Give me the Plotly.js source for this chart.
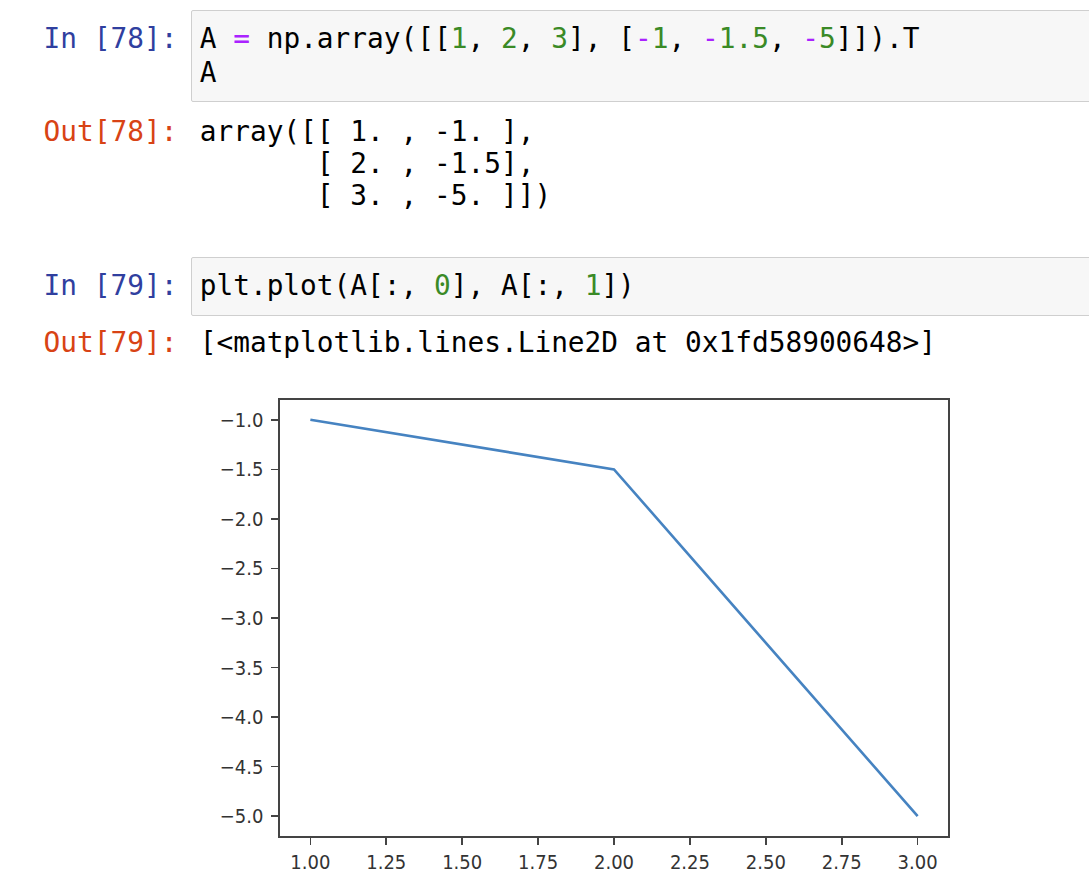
<!DOCTYPE html>
<html>
<head>
<meta charset="utf-8">
<script src="https://cdn.plot.ly/plotly-3.0.1.min.js"></script>
<style>
  html, body { margin: 0; padding: 0; background: #ffffff; width: 1089px; height: 888px; overflow: hidden; }
  .line { position: absolute; left: 199.7px; height: 33.5px; white-space: pre; }
  .line span, .prompt { font-family: "DejaVu Sans Mono", "Liberation Mono", monospace; font-size: 27.8px; line-height: 33.5px; white-space: pre; color: #000; }
  .prompt { position: absolute; left: 43.6px; }
  .pin { color: #303F9F; }
  .pout { color: #D84315; }
  .line span.op { color: #AA22FF; }
  .line span.num { color: #3a8a26; }
  .box { position: absolute; left: 191px; width: 920px; background: #f7f7f7; border: 1px solid #cfcfcf; border-radius: 2px; box-sizing: border-box; }
  #chart { position: absolute; left: 180px; top: 380px; width: 800px; height: 510px; }
</style>
</head>
<body>
<div class="box" style="top:10px; height:92px;"></div>
<div class="box" style="top:257px; height:59px;"></div>

<div class="prompt pin" style="top:22px;">In [78]:</div>
<div class="line" style="top:22px;"><span>A </span><span class="op">=</span><span> np.array([[</span><span class="num">1</span><span>, </span><span class="num">2</span><span>, </span><span class="num">3</span><span>], [</span><span class="op">-</span><span class="num">1</span><span>, </span><span class="op">-</span><span class="num">1.5</span><span>, </span><span class="op">-</span><span class="num">5</span><span>]]).T</span></div>
<div class="line" style="top:55.5px;"><span>A</span></div>

<div class="prompt pout" style="top:114.8px;">Out[78]:</div>
<div class="line" style="top:114.8px;"><span>array([[ 1. , -1. ],</span></div>
<div class="line" style="top:147.1px;"><span>       [ 2. , -1.5],</span></div>
<div class="line" style="top:179.4px;"><span>       [ 3. , -5. ]])</span></div>

<div class="prompt pin" style="top:268.8px;">In [79]:</div>
<div class="line" style="top:268.8px;"><span>plt.plot(A[:, </span><span class="num">0</span><span>], A[:, </span><span class="num">1</span><span>])</span></div>

<div class="prompt pout" style="top:326px;">Out[79]:</div>
<div class="line" style="top:326px;"><span>[&lt;matplotlib.lines.Line2D at 0x1fd58900648&gt;]</span></div>

<div id="chart"></div>

<script>
// Data: matrix A (transposed), columns used for plotting
const colX = [1, 2, 3];
const colY = [-1, -1.5, -5];
const xTickVals = [1.00, 1.25, 1.50, 1.75, 2.00, 2.25, 2.50, 2.75, 3.00];
const yTickVals = [-1.0, -1.5, -2.0, -2.5, -3.0, -3.5, -4.0, -4.5, -5.0];

const axisColor = '#444444';
const tickFont = { family: '"DejaVu Sans Condensed", "DejaVu Sans", sans-serif', size: 20, color: '#333333' };

const trace = {
  x: colX,
  y: colY,
  type: 'scatter',
  mode: 'lines',
  line: { color: '#4683c1', width: 2.6 },
  hoverinfo: 'skip'
};

const layout = {
  width: 800,
  height: 510,
  margin: { l: 100, r: 32, t: 20, b: 54 },
  paper_bgcolor: 'rgba(0,0,0,0)',
  plot_bgcolor: '#ffffff',
  showlegend: false,
  xaxis: {
    range: [0.9, 3.1],
    tickmode: 'array',
    tickvals: xTickVals,
    ticktext: xTickVals.map(v => v.toFixed(2)),
    ticks: 'outside', ticklen: 7, tickwidth: 1.6, tickcolor: axisColor,
    showline: true, linecolor: axisColor, linewidth: 1.6, mirror: true,
    showgrid: false, zeroline: false,
    tickfont: tickFont
  },
  yaxis: {
    range: [-5.2, -0.8],
    tickmode: 'array',
    tickvals: yTickVals,
    ticktext: yTickVals.map(v => '\u2212' + Math.abs(v).toFixed(1)),
    ticks: 'outside', ticklen: 7, tickwidth: 1.6, tickcolor: axisColor,
    ticklabelstandoff: 4,
    showline: true, linecolor: axisColor, linewidth: 1.6, mirror: true,
    showgrid: false, zeroline: false,
    tickfont: tickFont
  }
};

Plotly.newPlot('chart', [trace], layout, { staticPlot: true, displayModeBar: false });
</script>
</body>
</html>
